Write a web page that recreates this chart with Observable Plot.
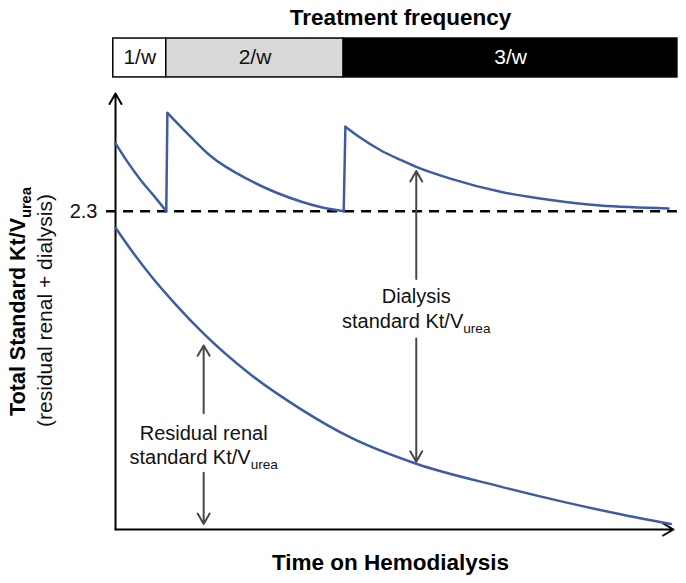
<!DOCTYPE html>
<html><head><meta charset="utf-8">
<script src="https://cdn.jsdelivr.net/npm/d3@7"></script>
<script src="https://cdn.jsdelivr.net/npm/@observablehq/plot@0.6"></script>
<style>
body{margin:0;background:#fff;}
#chart svg{display:block;}
</style>
</head><body><div id="chart"></div>
<script>
// Residual renal standard Kt/V (lower curve)
const residualTime = [0, 2.7, 6.3, 10.8, 15.8, 24.2, 33.2, 42.1, 53.9, 69.0, 79.7, 90.5, 99.5];
const residualKtV  = [2.18, 2.025, 1.835, 1.625, 1.415, 1.12, 0.87, 0.665, 0.475, 0.31, 0.205, 0.11, 0.04];
// Total standard Kt/V (upper saw-tooth curve)
const totalTime = [0, 2.0, 4.5, 7.0, 9.1, 9.3, 13.4, 17.0, 24.2, 33.2, 36.7, 40.9, 41.2, 43.9, 47.5, 51.1, 53.9, 60.0, 69.0, 78.0, 86.9, 99.1];
const totalKtV  = [2.79, 2.665, 2.525, 2.405, 2.30, 3.01, 2.84, 2.70, 2.52, 2.37, 2.33, 2.30, 2.91, 2.83, 2.74, 2.67, 2.62, 2.535, 2.44, 2.38, 2.34, 2.32];
const targetKtV = [2.3];
const targetLabel = ["2.3"];
// Treatment frequency bands
const freqLabels = ["1/w", "2/w", "3/w"];
const freqStart  = [-0.4, 9.1, 40.9];
const freqEnd    = [9.1, 40.9, 100.7];
// Annotations
const annoLabels = [["Dialysis", "standard Kt/V_urea"], ["Residual renal", "standard Kt/V_urea"]];
const annoTime   = [53.9, 15.8];
const annoTextY  = [[1.68, 1.50], [0.69, 0.52]];
const annoUpFrom = [1.81, 0.84], annoUpTo = [2.59, 1.33];
const annoDownFrom = [1.38, 0.41], annoDownTo = [0.49, 0.04];

// style config
const font = "'Liberation Sans', Arial, Helvetica, sans-serif";
const blue = "#3d5ca5";
const bandFill = {"1/w": "#ffffff", "2/w": "#d9d9d9", "3/w": "#000000"};
const bandText = {"1/w": "#111111", "2/w": "#111111", "3/w": "#ffffff"};

const residual = residualTime.map((t, i) => ({t, v: residualKtV[i], s: "r"}));
const totalPts = totalTime.map((t, i) => ({t, v: totalKtV[i]}));
const total = [];
let seg = 0;
totalPts.forEach((p, i) => {
  if (i > 0 && p.v > totalPts[i - 1].v) {
    total.push({...totalPts[i - 1], s: "jump" + seg}, {...p, s: "jump" + seg});
    seg++;
  }
  total.push({...p, s: "seg" + seg});
});
const bands = freqLabels.map((label, i) => ({label, start: freqStart[i], end: freqEnd[i]}));
const arrowsUp = annoTime.map((t, i) => ({t, a: annoUpFrom[i], b: annoUpTo[i]}));
const arrowsDown = annoTime.map((t, i) => ({t, a: annoDownFrom[i], b: annoDownTo[i]}));
const annoText = [];
annoLabels.forEach((lines, i) => lines.forEach((txt, j) => annoText.push({t: annoTime[i], v: annoTextY[i][j], txt})));

const yTop = 3.15;
const chart = Plot.plot({
  width: 686, height: 583,
  marginLeft: 115, marginRight: 13, marginTop: 93, marginBottom: 54,
  x: {domain: [0, 100], axis: null},
  y: {domain: [0, yTop], axis: null},
  color: {type: "identity"},
  style: {fontFamily: font, background: "#fff", overflow: "visible", color: "#000"},
  marks: [
    // treatment frequency bar
    Plot.rect(bands, {x1: "start", x2: "end", y1: 3.266, y2: 3.547, fill: d => bandFill[d.label], stroke: "#000", strokeWidth: 1.5}),
    Plot.text(bands, {x: d => (d.start + d.end) / 2, y: 3.41, text: "label", fill: d => bandText[d.label], fontSize: 21}),
    Plot.text(["Treatment frequency"], {frameAnchor: "top", lineAnchor: "middle", dx: 6, dy: -76, text: d => d, fontSize: 22.5, fontWeight: "bold", fill: "#000"}),
    // target line
    Plot.ruleY(targetKtV, {y: d => d, x1: -1.6, x2: 100.7, stroke: "#000", strokeWidth: 2.5, strokeDasharray: "10,7"}),
    Plot.text(targetKtV, {y: d => d, frameAnchor: "left", dx: -18, textAnchor: "end", text: (d, i) => targetLabel[i], fontSize: 20, fill: "#111"}),
    // axes
    Plot.arrow([0], {x1: 0, y1: 0, x2: 0, y2: yTop, stroke: "#000", strokeWidth: 2, headLength: 9}),
    Plot.arrow([0], {x1: 0, y1: 0, x2: 100, y2: 0, stroke: "#000", strokeWidth: 2, headLength: 9}),
    // curves
    Plot.line(total, {x: "t", y: "v", z: "s", curve: "monotone-x", stroke: blue, strokeWidth: 2.5, strokeLinecap: "round", strokeLinejoin: "round"}),
    Plot.line(residual, {x: "t", y: "v", z: "s", curve: "monotone-x", stroke: blue, strokeWidth: 2.5}),
    // annotation arrows
    Plot.arrow(arrowsUp, {x1: "t", x2: "t", y1: "a", y2: "b", stroke: "#484848", strokeWidth: 2, headLength: 9}),
    Plot.arrow(arrowsDown, {x1: "t", x2: "t", y1: "a", y2: "b", stroke: "#484848", strokeWidth: 2, headLength: 9}),
    Plot.text(annoText, {x: "t", y: "v", text: "txt", fontSize: 20, fill: "#111"}),
    // axis titles
    Plot.text(["Time on Hemodialysis"], {frameAnchor: "bottom", lineAnchor: "middle", dx: -4, dy: 33, text: d => d, fontSize: 22.5, fontWeight: "bold", fill: "#000"}),
    Plot.text(["Total Standard Kt/V_urea"], {frameAnchor: "left", textAnchor: "middle", lineAnchor: "middle", dx: -97, dy: -10, rotate: -90, text: d => d, fontSize: 21.5, fontWeight: "bold", fill: "#000"}),
    Plot.text(["(residual renal + dialysis)"], {frameAnchor: "left", textAnchor: "middle", lineAnchor: "middle", dx: -70, dy: -1, rotate: -90, text: d => d, fontSize: 21, fill: "#111"})
  ]
});

// subscripts for "urea"
const ns = "http://www.w3.org/2000/svg";
chart.querySelectorAll("text").forEach(el => {
  if (!el.textContent.includes("_")) return;
  const [a, b] = el.textContent.split("_");
  el.textContent = "";
  const t1 = document.createElementNS(ns, "tspan"); t1.textContent = a;
  const t2 = document.createElementNS(ns, "tspan"); t2.textContent = b;
  t2.setAttribute("font-size", "0.68em"); t2.setAttribute("dy", "0.35em");
  el.append(t1, t2);
});
document.getElementById("chart").append(chart);
</script>
</body></html>
